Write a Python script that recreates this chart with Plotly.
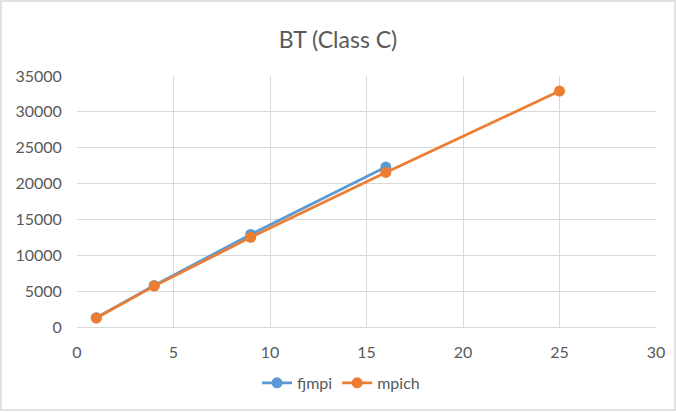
import plotly.graph_objects as go

procs_fjmpi = [1, 4, 9, 16]
fjmpi = [1300, 5800, 12900, 22300]
procs_mpich = [1, 4, 9, 16, 25]
mpich = [1250, 5700, 12500, 21550, 32900]

BLUE = "#5b9bd5"
ORANGE = "#ed7d31"
TXT = "#595959"
GRID = "#d9d9d9"
FONT = "Lato, Open Sans, sans-serif"

fig = go.Figure()
fig.add_trace(go.Scatter(x=procs_fjmpi, y=fjmpi, name="fjmpi", mode="lines+markers",
                         line=dict(color=BLUE, width=2.75), marker=dict(size=11, color=BLUE)))
fig.add_trace(go.Scatter(x=procs_mpich, y=mpich, name="mpich", mode="lines+markers",
                         line=dict(color=ORANGE, width=2.75), marker=dict(size=11, color=ORANGE)))

fig.update_layout(
    width=676, height=412,
    margin=dict(l=77, r=20, t=76, b=85),
    paper_bgcolor="white", plot_bgcolor="white",
    font=dict(family=FONT, color=TXT, size=16),
    title=dict(text="BT (Class C)", x=0.5, xanchor="center", y=0.902, yanchor="middle",
               font=dict(size=23, color=TXT, family=FONT)),
    xaxis=dict(range=[0, 30], dtick=5, showgrid=True, gridcolor=GRID, gridwidth=1,
               zeroline=False, showline=True, linecolor=GRID, mirror=False,
               tickfont=dict(size=16, color=TXT), ticks="outside", ticklen=11,
               tickcolor="rgba(0,0,0,0)", automargin=False),
    yaxis=dict(range=[0, 35000], dtick=5000, tickformat="d", showgrid=True, gridcolor=GRID,
               gridwidth=1, zeroline=False, showline=False, tickfont=dict(size=16, color=TXT),
               ticks="outside", ticklen=11, tickcolor="rgba(0,0,0,0)", automargin=False),
    legend=dict(orientation="h", x=0.456, xanchor="center", y=-0.223, yanchor="middle",
                font=dict(size=16, color=TXT)),
    showlegend=True,
)
fig.add_shape(type="rect", xref="paper", yref="paper",
              x0=(1 - 77) / 579, x1=(675 - 77) / 579,
              y0=(327 - 410) / 251, y1=(327 - 1) / 251,
              line=dict(color=GRID, width=1.5), fillcolor="rgba(0,0,0,0)", layer="below")
fig.write_html("out.html", config={"displayModeBar": False},
               post_script="document.body.style.margin='0';document.body.style.overflow='hidden';")
